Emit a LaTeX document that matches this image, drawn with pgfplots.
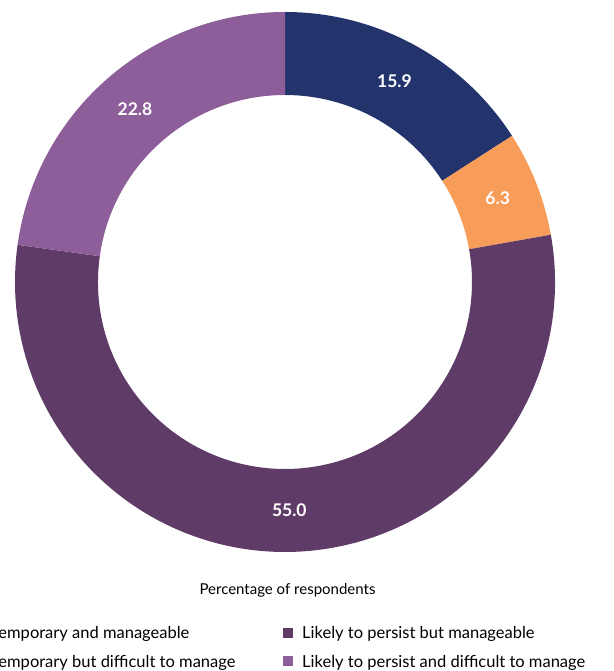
\documentclass[border=0pt]{standalone}
\usepackage{pgfplots}
\usepackage{pgfplotstable}
\pgfplotsset{compat=1.18}
\usetikzlibrary{calc}
\usepackage{fontspec}
\setmainfont{Lato}
\definecolor{cnavy}{HTML}{22346B}
\definecolor{corange}{HTML}{F79D59}
\definecolor{cdark}{HTML}{5F3C67}
\definecolor{clight}{HTML}{8D5E9A}
\pgfplotstableread{
value
15.9
6.3
55.0
22.8
}\piedata
\begin{document}
\begin{tikzpicture}[x=1pt,y=1pt]
\path[use as bounding box] (0,0) rectangle (613,671);
\clip (0,0) rectangle (613,671);
\pgfplotstablegetelem{0}{value}\of\piedata \let\va\pgfplotsretval
\pgfplotstablegetelem{1}{value}\of\piedata \let\vb\pgfplotsretval
\pgfplotstablegetelem{2}{value}\of\piedata \let\vc\pgfplotsretval
\pgfplotstablegetelem{3}{value}\of\piedata \let\vd\pgfplotsretval
\pgfmathsetmacro\aA{90}
\pgfmathsetmacro\aB{\aA-3.6*\va}
\pgfmathsetmacro\aC{\aB-3.6*\vb}
\pgfmathsetmacro\aD{\aC-3.6*\vc}
\pgfmathsetmacro\aE{\aD-3.6*\vd}
\def\Ro{270pt}\def\Ri{187pt}\def\Rl{228.5pt}
\begin{axis}[at={(0,0)},anchor=south west,scale only axis,width=613pt,height=671pt,
  xmin=0,xmax=613,ymin=0,ymax=671,hide axis,clip=false,
  /pgf/number format/assume math mode=true]
\coordinate (C) at (axis cs:285,389);
\fill[cnavy] ($(C)+(\aA:\Ro)$) arc[start angle=\aA,end angle=\aB,radius=\Ro] -- ($(C)+(\aB:\Ri)$) arc[start angle=\aB,end angle=\aA,radius=\Ri] -- cycle;
\fill[corange] ($(C)+(\aB:\Ro)$) arc[start angle=\aB,end angle=\aC,radius=\Ro] -- ($(C)+(\aC:\Ri)$) arc[start angle=\aC,end angle=\aB,radius=\Ri] -- cycle;
\fill[cdark] ($(C)+(\aC:\Ro)$) arc[start angle=\aC,end angle=\aD,radius=\Ro] -- ($(C)+(\aD:\Ri)$) arc[start angle=\aD,end angle=\aC,radius=\Ri] -- cycle;
\fill[clight] ($(C)+(\aD:\Ro)$) arc[start angle=\aD,end angle=\aE,radius=\Ro] -- ($(C)+(\aE:\Ri)$) arc[start angle=\aE,end angle=\aD,radius=\Ri] -- cycle;
\tikzset{lab/.style={text=white,font=\bfseries\fontsize{17.5}{20}\selectfont}}
\node[lab] at ($(C)+({(\aA+\aB)/2}:\Rl)$) {\pgfmathprintnumber[fixed,fixed zerofill,precision=1,assume math mode=true]{\va}};
\node[lab] at ($(C)+({(\aB+\aC)/2}:\Rl)$) {\pgfmathprintnumber[fixed,fixed zerofill,precision=1,assume math mode=true]{\vb}};
\node[lab] at ($(C)+({(\aC+\aD)/2}:\Rl)$) {\pgfmathprintnumber[fixed,fixed zerofill,precision=1,assume math mode=true]{\vc}};
\node[lab] at ($(C)+({(\aD+\aE)/2}:\Rl)$) {\pgfmathprintnumber[fixed,fixed zerofill,precision=1,assume math mode=true]{\vd}};
\node[font=\fontsize{15}{17}\selectfont,anchor=base,inner sep=0pt] at (axis cs:287.5,76) {Percentage of respondents};
\tikzset{leg/.style={font=\fontsize{16.5}{19}\selectfont,anchor=base west,inner sep=0pt}}
\fill[cnavy] (axis cs:-28,33) rectangle (axis cs:-18,43);
\node[leg] at (axis cs:-9.5,32) {Temporary and manageable};
\fill[corange] (axis cs:-28,5) rectangle (axis cs:-18,15);
\node[leg] at (axis cs:-9.5,4) {Temporary but difficult to manage};
\fill[cdark] (axis cs:283,33) rectangle (axis cs:293,43);
\node[leg] at (axis cs:302,32) {Likely to persist but manageable};
\fill[clight] (axis cs:283,5) rectangle (axis cs:293,15);
\node[leg] at (axis cs:302,4) {Likely to persist and difficult to manage};
\end{axis}
\end{tikzpicture}
\end{document}
